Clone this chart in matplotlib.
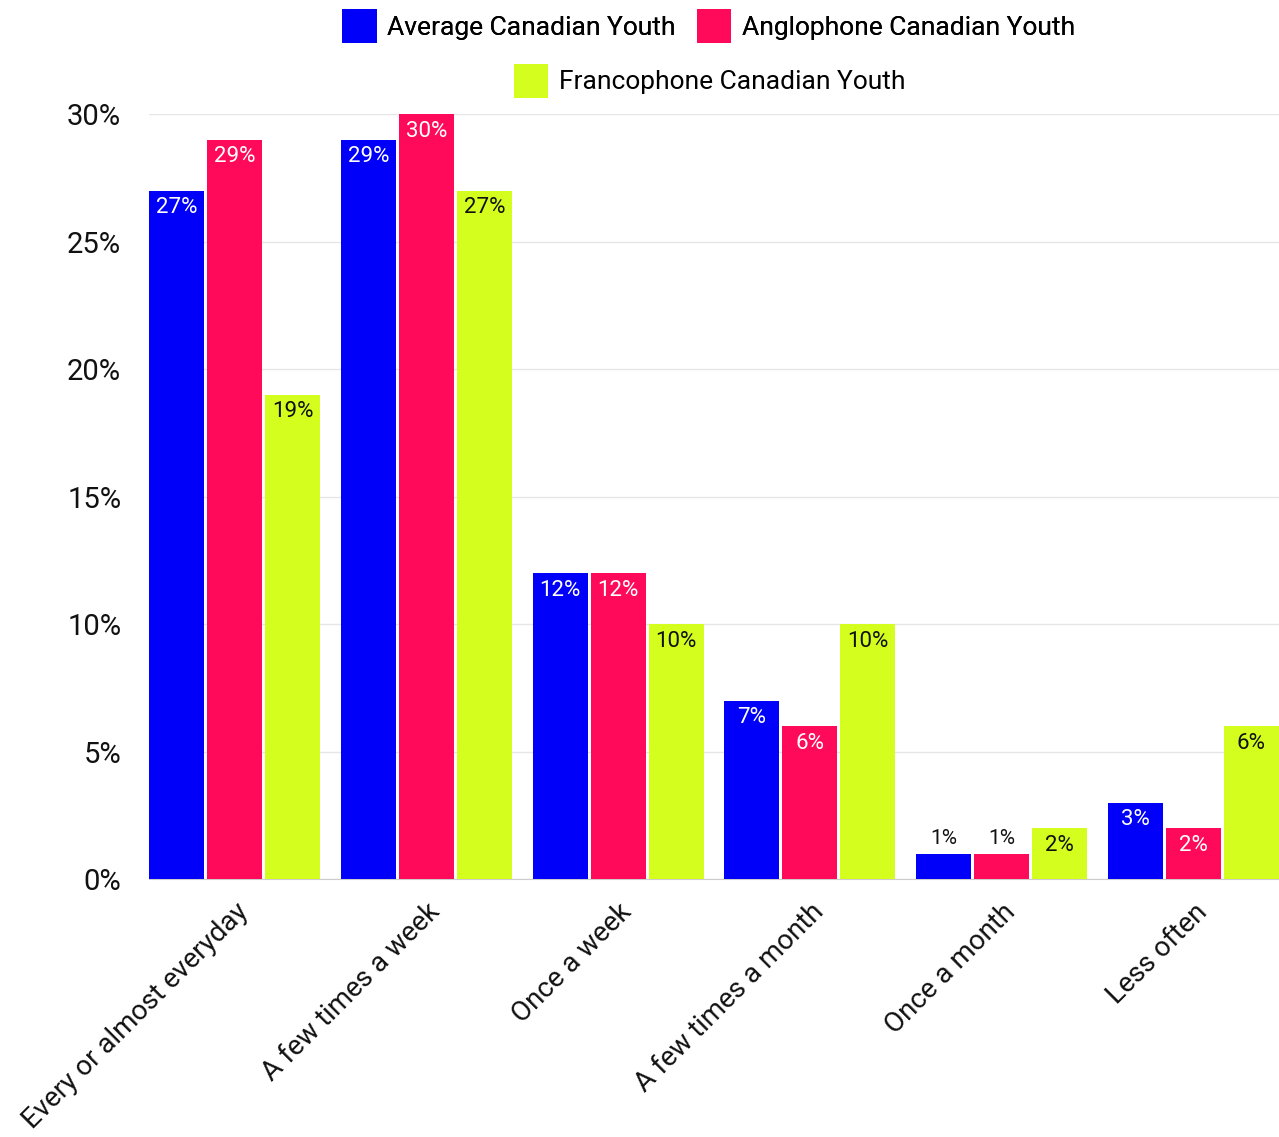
import matplotlib.pyplot as plt
import numpy as np
from matplotlib.patches import Patch

plt.rcParams["font.family"] = ["Roboto", "DejaVu Sans"]

categories = [
    "Every or almost everyday",
    "A few times a week",
    "Once a week",
    "A few times a month",
    "Once a month",
    "Less often",
]
series_names = [
    "Average Canadian Youth",
    "Anglophone Canadian Youth",
    "Francophone Canadian Youth",
]
average = [27, 29, 12, 7, 1, 3]
anglophone = [29, 30, 12, 6, 1, 2]
francophone = [19, 27, 10, 10, 2, 6]

colors = ["#0000fa", "#ff0a5a", "#d4ff1e"]
label_colors = ["white", "white", "#111111"]

fig = plt.figure(figsize=(12.79, 11.37), dpi=100)
ax = fig.add_axes([0.1165, 0.2269, 0.8835, 0.6728])

x = np.arange(len(categories))
bar_w = 0.287
pitch = 0.302

for i, (vals, col, tcol) in enumerate(zip([average, anglophone, francophone], colors, label_colors)):
    xs = x + (i - 1) * pitch
    ax.bar(xs, vals, width=bar_w, color=col, zorder=3)
    for xi, v in zip(xs, vals):
        if v <= 1:
            # too short for an inside label, put it above
            ax.text(xi, v + 0.2, f"{v}%", ha="center", va="bottom",
                    fontsize=15, color="#111111", zorder=4)
        else:
            ax.text(xi, v - 0.68, f"{v}%", ha="center", va="center",
                    fontsize=16, color=tcol, zorder=4)

ax.set_xlim(-0.448, len(categories) - 1 + 0.448)
ax.set_ylim(0, 30)
ax.set_yticks(range(0, 31, 5))
ax.set_yticklabels([f"{t}%" for t in range(0, 31, 5)], fontsize=21, color="#111111")
ax.set_xticks(x)
ax.set_xticklabels(categories, rotation=45, ha="right", rotation_mode="anchor",
                   fontsize=20, color="#111111")
ax.tick_params(axis="both", length=0)
ax.tick_params(axis="y", pad=20)
ax.tick_params(axis="x", pad=14)
ax.grid(axis="y", color="#e6e6e6", linewidth=1, zorder=0)
for s in ["top", "right", "left"]:
    ax.spines[s].set_visible(False)
ax.spines["bottom"].set_color("#cccccc")

handles = [Patch(facecolor=c) for c in colors]
leg1 = fig.legend(handles[:2], series_names[:2], loc="center", ncol=2,
                  bbox_to_anchor=(0.554, 0.977), frameon=False, fontsize=19,
                  handlelength=1.3, handleheight=1.6, handletextpad=0.4, columnspacing=0.8)
fig.add_artist(leg1)
fig.legend(handles[2:], series_names[2:], loc="center",
           bbox_to_anchor=(0.555, 0.929), frameon=False, fontsize=19,
           handlelength=1.3, handleheight=1.6, handletextpad=0.4)

fig.savefig("out.png", dpi=100, facecolor="white")
